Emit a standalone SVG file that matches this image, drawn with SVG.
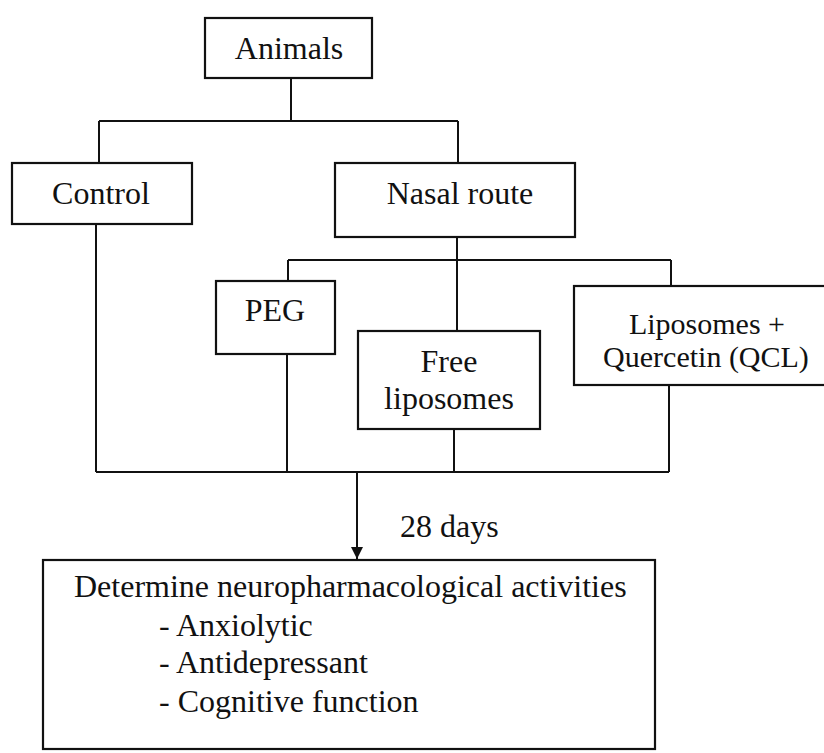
<svg xmlns="http://www.w3.org/2000/svg" width="824" height="753" viewBox="0 0 824 753">
<defs>
<style>
.box{fill:#fff;stroke:#111;stroke-width:2.2}
.ln{fill:none;stroke:#111;stroke-width:2}
.t{font-family:"Liberation Serif","DejaVu Serif","Times New Roman",serif;font-size:32px;fill:#111}
.c{text-anchor:middle}
.s{font-size:30px}
</style>
<marker id="ah" markerWidth="14" markerHeight="14" refX="12" refY="6" orient="auto" markerUnits="userSpaceOnUse">
<path d="M0,0 L12,6 L0,12 Z" fill="#111"/>
</marker>
</defs>
<rect width="824" height="753" fill="#fff"/>
<g id="connectors">
<path class="ln" d="M291,78 V121"/>
<path class="ln" d="M99,121 H458"/>
<path class="ln" d="M99,121 V163"/>
<path class="ln" d="M458,121 V163"/>
<path class="ln" d="M96,224 V472"/>
<path class="ln" d="M457,237 V331"/>
<path class="ln" d="M288,260 H671"/>
<path class="ln" d="M288,260 V281"/>
<path class="ln" d="M671,260 V286"/>
<path class="ln" d="M287,354 V472"/>
<path class="ln" d="M454,429 V472"/>
<path class="ln" d="M669,385 V472"/>
<path class="ln" d="M96,472 H669"/>
<path class="ln" d="M357,472 V559" marker-end="url(#ah)"/>
</g>
<g id="animals"><rect class="box" x="205" y="18" width="167" height="60"/><text class="t c" x="289" y="59">Animals</text></g>
<g id="control"><rect class="box" x="12" y="163" width="180" height="61"/><text class="t c" x="101" y="204">Control</text></g>
<g id="nasal"><rect class="box" x="335" y="163" width="240" height="74"/><text class="t c" x="460" y="204">Nasal route</text></g>
<g id="peg"><rect class="box" x="216" y="281" width="119" height="73"/><text class="t c" x="275" y="321">PEG</text></g>
<g id="free"><rect class="box" x="358" y="331" width="182" height="98"/><text class="t c" x="449" y="372">Free</text><text class="t c" x="449" y="409">liposomes</text></g>
<g id="qcl"><rect class="box" x="574" y="286" width="252" height="99"/><text class="t c s" x="707" y="334">Liposomes +</text><text class="t c s" x="706" y="367">Quercetin (QCL)</text></g>
<text id="days" class="t" x="400" y="537">28 days</text>
<g id="determine"><rect class="box" x="43" y="560" width="612" height="189"/>
<text class="t" x="74" y="597">Determine neuropharmacological activities</text>
<text class="t" x="159" y="636">- Anxiolytic</text>
<text class="t" x="159" y="673">- Antidepressant</text>
<text class="t" x="159" y="712">- Cognitive function</text>
</g>
</svg>
